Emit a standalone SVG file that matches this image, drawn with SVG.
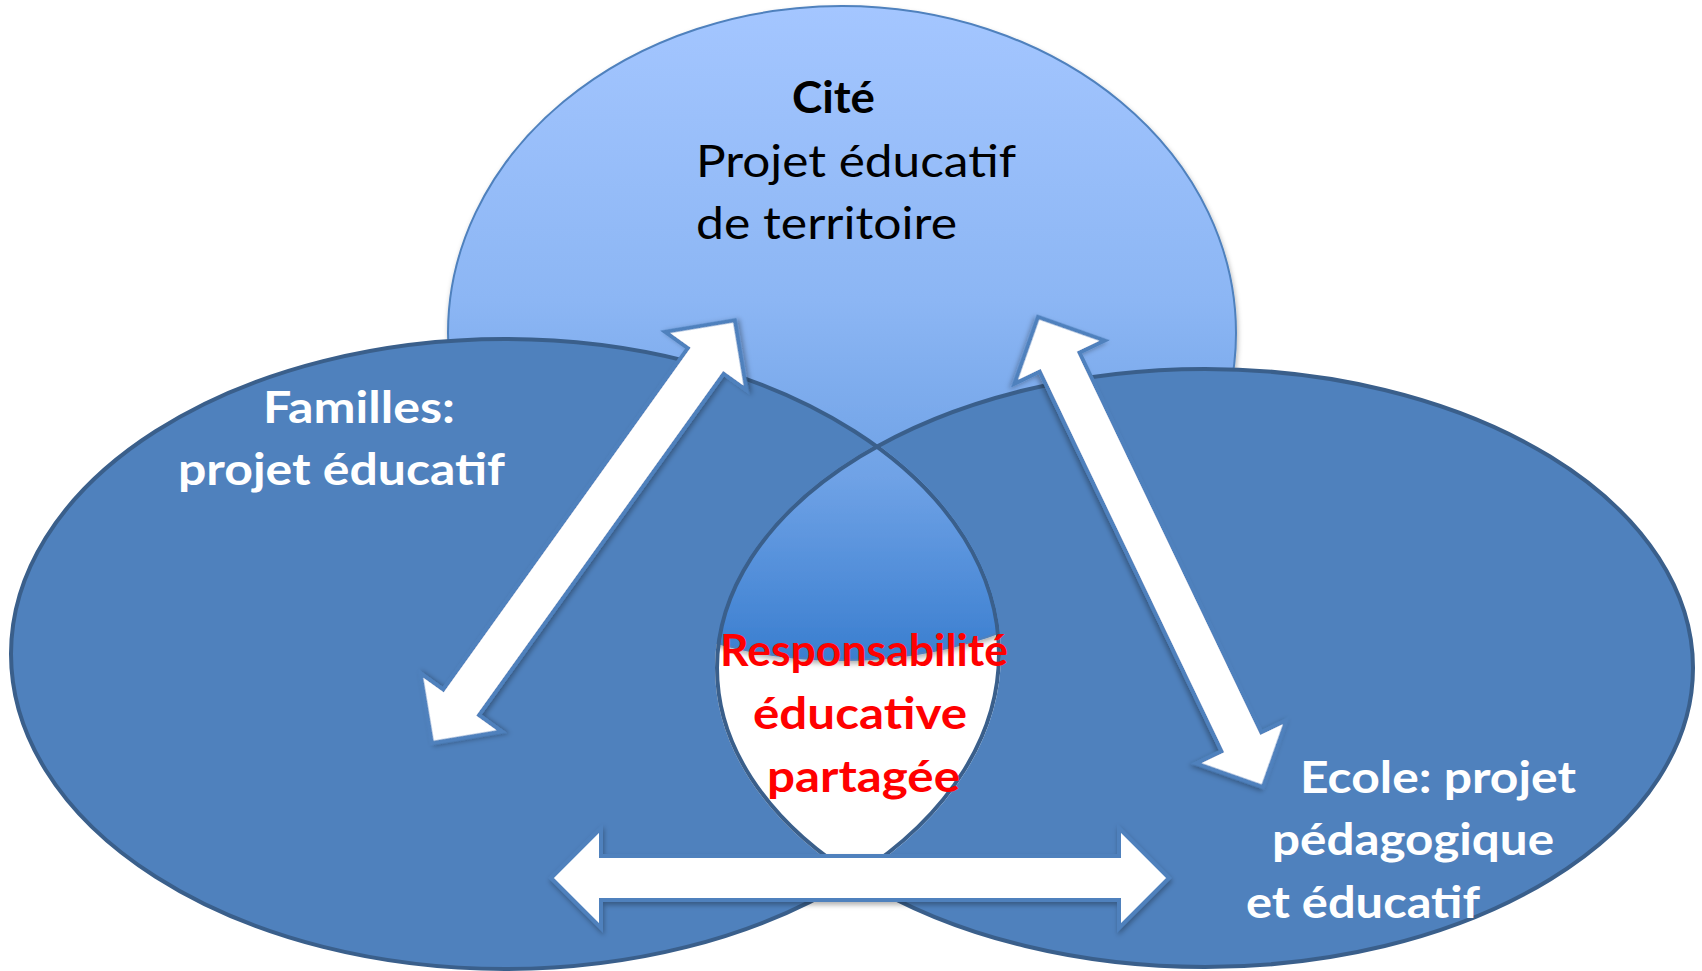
<svg xmlns="http://www.w3.org/2000/svg" width="1702" height="971" viewBox="0 0 1702 971">
  <defs>
    <style>
      .lbl { font-family: Lato, "Open Sans", "Liberation Sans", sans-serif; font-size: 44px; }
      .b { font-weight: bold; }
      .w { fill: #ffffff; }
      .k { fill: #000000; }
      .r { fill: #ff0000; font-size: 44px; }
      .blue { fill: #4f81bd; }
      .outline { fill: none; stroke: #3a5f8b; stroke-width: 4; }
      .arrow { fill: #ffffff; stroke: #4f81bd; stroke-width: 4; stroke-linejoin: miter; filter: url(#sh); }
    </style>
    <linearGradient id="gTop" gradientUnits="userSpaceOnUse" x1="0" y1="6" x2="0" y2="660">
      <stop offset="0" stop-color="#a4c6ff"/>
      <stop offset="0.45" stop-color="#8cb6f4"/>
      <stop offset="0.72" stop-color="#6fa2e6"/>
      <stop offset="1" stop-color="#3a7ecf"/>
    </linearGradient>
    <filter id="sh" x="-20%" y="-20%" width="140%" height="140%">
      <feDropShadow dx="1" dy="3" stdDeviation="2.5" flood-color="#000000" flood-opacity="0.3"/>
    </filter>
    <mask id="notRight" maskUnits="userSpaceOnUse" x="0" y="0" width="1702" height="971">
      <rect x="0" y="0" width="1702" height="971" fill="#ffffff"/>
      <ellipse cx="1205" cy="668" rx="488" ry="299" fill="#000000" stroke="#000000" stroke-width="4"/>
    </mask>
    <mask id="notLeft" maskUnits="userSpaceOnUse" x="0" y="0" width="1702" height="971">
      <rect x="0" y="0" width="1702" height="971" fill="#ffffff"/>
      <ellipse cx="505" cy="654" rx="494" ry="315" fill="#000000" stroke="#000000" stroke-width="4"/>
    </mask>
  </defs>

  <rect x="0" y="0" width="1702" height="971" fill="#ffffff"/>

  <g id="cite">
    <ellipse cx="842" cy="333" rx="394" ry="327" fill="url(#gTop)" stroke="#4f81bd" stroke-width="2" filter="url(#sh)"/>
    <text class="lbl b k" x="792" y="113" textLength="83" lengthAdjust="spacingAndGlyphs">Cité</text>
    <text class="lbl k" x="696" y="177" textLength="320" lengthAdjust="spacingAndGlyphs">Projet éducatif</text>
    <text class="lbl k" x="696" y="239" textLength="261" lengthAdjust="spacingAndGlyphs">de territoire</text>
  </g>

  <g id="familles">
    <ellipse class="blue" cx="505" cy="654" rx="494" ry="315" mask="url(#notRight)"/>
    <ellipse class="outline" cx="505" cy="654" rx="494" ry="315"/>
    <text class="lbl b w" x="263" y="423" textLength="192" lengthAdjust="spacingAndGlyphs">Familles:</text>
    <text class="lbl b w" x="178" y="485" textLength="327" lengthAdjust="spacingAndGlyphs">projet éducatif</text>
  </g>

  <g id="ecole">
    <ellipse class="blue" cx="1205" cy="668" rx="488" ry="299" mask="url(#notLeft)"/>
    <ellipse class="outline" cx="1205" cy="668" rx="488" ry="299"/>
    <text class="lbl b w" x="1300" y="793" textLength="276" lengthAdjust="spacingAndGlyphs">Ecole: projet</text>
    <text class="lbl b w" x="1272" y="855" textLength="282" lengthAdjust="spacingAndGlyphs">pédagogique</text>
    <text class="lbl b w" x="1246" y="918" textLength="234" lengthAdjust="spacingAndGlyphs">et éducatif</text>
  </g>

  <g id="responsabilite">
    <text class="lbl b r" x="720" y="666" textLength="288" lengthAdjust="spacingAndGlyphs">Responsabilité</text>
    <text class="lbl b r" x="753" y="729" textLength="214" lengthAdjust="spacingAndGlyphs">éducative</text>
    <text class="lbl b r" x="767" y="792" textLength="193" lengthAdjust="spacingAndGlyphs">partagée</text>
  </g>

  <g id="connectors">
    <path class="arrow" transform="translate(432,743) rotate(-54.38)" d="M0,0 L50,-50 L50,-22 L470,-22 L470,-50 L520,0 L470,50 L470,22 L50,22 L50,50 Z"/>
    <path class="arrow" transform="translate(1038,317) rotate(64.42)" d="M0,0 L50,-50 L50,-22 L471,-22 L471,-50 L521,0 L471,50 L471,22 L50,22 L50,50 Z"/>
    <path class="arrow" transform="translate(551,878)" d="M0,0 L50,-50 L50,-22 L568,-22 L568,-50 L618,0 L568,50 L568,22 L50,22 L50,50 Z"/>
  </g>
</svg>
